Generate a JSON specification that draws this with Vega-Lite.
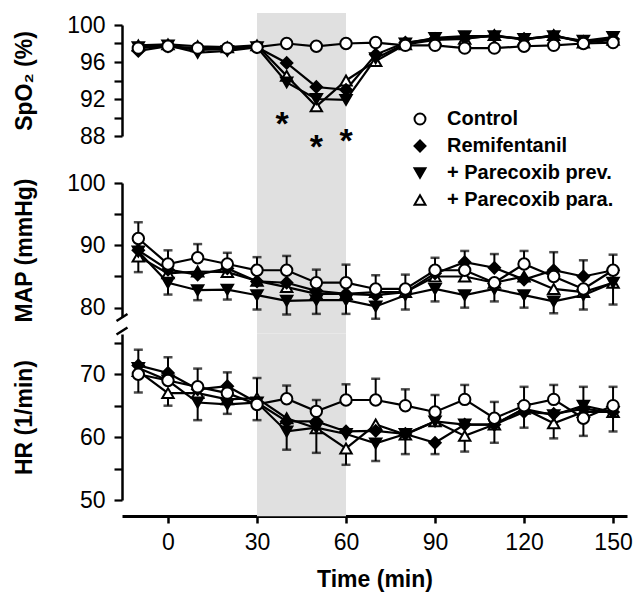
{
  "$schema": "https://vega.github.io/schema/vega-lite/v6.json",
  "background": "white",
  "padding": {"left": 13, "top": 12, "right": 5, "bottom": 5},
  "datasets": {
    "pts": [
      {"p":"S","t":-10,"g":"+ Parecoxib para.","v":97.8},{"p":"S","t":-10,"g":"+ Parecoxib prev.","v":97.6},{"p":"S","t":-10,"g":"Remifentanil","v":97.2},{"p":"S","t":-10,"g":"Control","v":97.5},
      {"p":"S","t":0,"g":"+ Parecoxib para.","v":97.9},{"p":"S","t":0,"g":"+ Parecoxib prev.","v":97.8},{"p":"S","t":0,"g":"Remifentanil","v":97.7},{"p":"S","t":0,"g":"Control","v":97.7},
      {"p":"S","t":10,"g":"+ Parecoxib para.","v":97.7},{"p":"S","t":10,"g":"+ Parecoxib prev.","v":97.0},{"p":"S","t":10,"g":"Remifentanil","v":97.3},{"p":"S","t":10,"g":"Control","v":97.5},
      {"p":"S","t":20,"g":"+ Parecoxib para.","v":97.6},{"p":"S","t":20,"g":"+ Parecoxib prev.","v":97.2},{"p":"S","t":20,"g":"Remifentanil","v":97.4},{"p":"S","t":20,"g":"Control","v":97.5},
      {"p":"S","t":30,"g":"+ Parecoxib para.","v":97.8},{"p":"S","t":30,"g":"+ Parecoxib prev.","v":97.6},{"p":"S","t":30,"g":"Remifentanil","v":97.6},{"p":"S","t":30,"g":"Control","v":97.6},
      {"p":"S","t":40,"g":"+ Parecoxib para.","v":94.5},{"p":"S","t":40,"g":"+ Parecoxib prev.","v":93.8},{"p":"S","t":40,"g":"Remifentanil","v":95.9},{"p":"S","t":40,"g":"Control","v":98.0},
      {"p":"S","t":50,"g":"+ Parecoxib para.","v":91.2},{"p":"S","t":50,"g":"+ Parecoxib prev.","v":92.0},{"p":"S","t":50,"g":"Remifentanil","v":93.3},{"p":"S","t":50,"g":"Control","v":97.7},
      {"p":"S","t":60,"g":"+ Parecoxib para.","v":94.0},{"p":"S","t":60,"g":"+ Parecoxib prev.","v":91.9},{"p":"S","t":60,"g":"Remifentanil","v":93.0},{"p":"S","t":60,"g":"Control","v":98.0},
      {"p":"S","t":70,"g":"+ Parecoxib para.","v":96.1},{"p":"S","t":70,"g":"+ Parecoxib prev.","v":96.4},{"p":"S","t":70,"g":"Remifentanil","v":96.8},{"p":"S","t":70,"g":"Control","v":98.1},
      {"p":"S","t":80,"g":"+ Parecoxib para.","v":97.9},{"p":"S","t":80,"g":"+ Parecoxib prev.","v":98.0},{"p":"S","t":80,"g":"Remifentanil","v":98.1},{"p":"S","t":80,"g":"Control","v":97.8},
      {"p":"S","t":90,"g":"+ Parecoxib para.","v":98.4},{"p":"S","t":90,"g":"+ Parecoxib prev.","v":98.6},{"p":"S","t":90,"g":"Remifentanil","v":98.5},{"p":"S","t":90,"g":"Control","v":97.8},
      {"p":"S","t":100,"g":"+ Parecoxib para.","v":98.5},{"p":"S","t":100,"g":"+ Parecoxib prev.","v":98.8},{"p":"S","t":100,"g":"Remifentanil","v":98.6},{"p":"S","t":100,"g":"Control","v":97.5},
      {"p":"S","t":110,"g":"+ Parecoxib para.","v":98.9},{"p":"S","t":110,"g":"+ Parecoxib prev.","v":98.8},{"p":"S","t":110,"g":"Remifentanil","v":98.8},{"p":"S","t":110,"g":"Control","v":97.5},
      {"p":"S","t":120,"g":"+ Parecoxib para.","v":98.4},{"p":"S","t":120,"g":"+ Parecoxib prev.","v":98.5},{"p":"S","t":120,"g":"Remifentanil","v":98.5},{"p":"S","t":120,"g":"Control","v":97.7},
      {"p":"S","t":130,"g":"+ Parecoxib para.","v":98.9},{"p":"S","t":130,"g":"+ Parecoxib prev.","v":98.8},{"p":"S","t":130,"g":"Remifentanil","v":98.8},{"p":"S","t":130,"g":"Control","v":97.8},
      {"p":"S","t":140,"g":"+ Parecoxib para.","v":98.1},{"p":"S","t":140,"g":"+ Parecoxib prev.","v":98.3},{"p":"S","t":140,"g":"Remifentanil","v":98.2},{"p":"S","t":140,"g":"Control","v":98.0},
      {"p":"S","t":150,"g":"+ Parecoxib para.","v":98.4},{"p":"S","t":150,"g":"+ Parecoxib prev.","v":98.7},{"p":"S","t":150,"g":"Remifentanil","v":98.5},{"p":"S","t":150,"g":"Control","v":98.1},

      {"p":"M","t":-10,"g":"+ Parecoxib para.","v":88.2},{"p":"M","t":-10,"g":"+ Parecoxib prev.","v":89.0},{"p":"M","t":-10,"g":"Remifentanil","v":89.2},{"p":"M","t":-10,"g":"Control","v":91.1},
      {"p":"M","t":0,"g":"+ Parecoxib para.","v":85.5},{"p":"M","t":0,"g":"+ Parecoxib prev.","v":84.0},{"p":"M","t":0,"g":"Remifentanil","v":86.1},{"p":"M","t":0,"g":"Control","v":87.0},
      {"p":"M","t":10,"g":"+ Parecoxib para.","v":85.8},{"p":"M","t":10,"g":"+ Parecoxib prev.","v":82.8},{"p":"M","t":10,"g":"Remifentanil","v":85.3},{"p":"M","t":10,"g":"Control","v":88.0},
      {"p":"M","t":20,"g":"+ Parecoxib para.","v":85.7},{"p":"M","t":20,"g":"+ Parecoxib prev.","v":82.9},{"p":"M","t":20,"g":"Remifentanil","v":86.3},{"p":"M","t":20,"g":"Control","v":87.0},
      {"p":"M","t":30,"g":"+ Parecoxib para.","v":84.3},{"p":"M","t":30,"g":"+ Parecoxib prev.","v":82.0},{"p":"M","t":30,"g":"Remifentanil","v":84.2},{"p":"M","t":30,"g":"Control","v":86.0},
      {"p":"M","t":40,"g":"+ Parecoxib para.","v":83.3},{"p":"M","t":40,"g":"+ Parecoxib prev.","v":81.1},{"p":"M","t":40,"g":"Remifentanil","v":84.0},{"p":"M","t":40,"g":"Control","v":86.0},
      {"p":"M","t":50,"g":"+ Parecoxib para.","v":82.2},{"p":"M","t":50,"g":"+ Parecoxib prev.","v":81.2},{"p":"M","t":50,"g":"Remifentanil","v":82.7},{"p":"M","t":50,"g":"Control","v":84.0},
      {"p":"M","t":60,"g":"+ Parecoxib para.","v":82.2},{"p":"M","t":60,"g":"+ Parecoxib prev.","v":81.2},{"p":"M","t":60,"g":"Remifentanil","v":82.2},{"p":"M","t":60,"g":"Control","v":84.0},
      {"p":"M","t":70,"g":"+ Parecoxib para.","v":82.5},{"p":"M","t":70,"g":"+ Parecoxib prev.","v":80.2},{"p":"M","t":70,"g":"Remifentanil","v":82.0},{"p":"M","t":70,"g":"Control","v":83.0},
      {"p":"M","t":80,"g":"+ Parecoxib para.","v":82.5},{"p":"M","t":80,"g":"+ Parecoxib prev.","v":82.0},{"p":"M","t":80,"g":"Remifentanil","v":82.5},{"p":"M","t":80,"g":"Control","v":83.0},
      {"p":"M","t":90,"g":"+ Parecoxib para.","v":85.0},{"p":"M","t":90,"g":"+ Parecoxib prev.","v":83.0},{"p":"M","t":90,"g":"Remifentanil","v":85.5},{"p":"M","t":90,"g":"Control","v":86.0},
      {"p":"M","t":100,"g":"+ Parecoxib para.","v":85.0},{"p":"M","t":100,"g":"+ Parecoxib prev.","v":82.0},{"p":"M","t":100,"g":"Remifentanil","v":87.3},{"p":"M","t":100,"g":"Control","v":86.0},
      {"p":"M","t":110,"g":"+ Parecoxib para.","v":84.0},{"p":"M","t":110,"g":"+ Parecoxib prev.","v":83.0},{"p":"M","t":110,"g":"Remifentanil","v":86.4},{"p":"M","t":110,"g":"Control","v":84.0},
      {"p":"M","t":120,"g":"+ Parecoxib para.","v":85.0},{"p":"M","t":120,"g":"+ Parecoxib prev.","v":82.0},{"p":"M","t":120,"g":"Remifentanil","v":84.5},{"p":"M","t":120,"g":"Control","v":87.0},
      {"p":"M","t":130,"g":"+ Parecoxib para.","v":83.0},{"p":"M","t":130,"g":"+ Parecoxib prev.","v":81.0},{"p":"M","t":130,"g":"Remifentanil","v":86.0},{"p":"M","t":130,"g":"Control","v":85.0},
      {"p":"M","t":140,"g":"+ Parecoxib para.","v":82.5},{"p":"M","t":140,"g":"+ Parecoxib prev.","v":82.0},{"p":"M","t":140,"g":"Remifentanil","v":85.0},{"p":"M","t":140,"g":"Control","v":83.0},
      {"p":"M","t":150,"g":"+ Parecoxib para.","v":84.0},{"p":"M","t":150,"g":"+ Parecoxib prev.","v":84.0},{"p":"M","t":150,"g":"Remifentanil","v":86.0},{"p":"M","t":150,"g":"Control","v":86.0},

      {"p":"H","t":-10,"g":"+ Parecoxib para.","v":70.5},{"p":"H","t":-10,"g":"+ Parecoxib prev.","v":71.0},{"p":"H","t":-10,"g":"Remifentanil","v":71.4},{"p":"H","t":-10,"g":"Control","v":70.0},
      {"p":"H","t":0,"g":"+ Parecoxib para.","v":67.0},{"p":"H","t":0,"g":"+ Parecoxib prev.","v":69.0},{"p":"H","t":0,"g":"Remifentanil","v":70.2},{"p":"H","t":0,"g":"Control","v":69.0},
      {"p":"H","t":10,"g":"+ Parecoxib para.","v":67.0},{"p":"H","t":10,"g":"+ Parecoxib prev.","v":65.5},{"p":"H","t":10,"g":"Remifentanil","v":67.6},{"p":"H","t":10,"g":"Control","v":68.0},
      {"p":"H","t":20,"g":"+ Parecoxib para.","v":66.0},{"p":"H","t":20,"g":"+ Parecoxib prev.","v":65.2},{"p":"H","t":20,"g":"Remifentanil","v":68.1},{"p":"H","t":20,"g":"Control","v":67.0},
      {"p":"H","t":30,"g":"+ Parecoxib para.","v":66.2},{"p":"H","t":30,"g":"+ Parecoxib prev.","v":65.5},{"p":"H","t":30,"g":"Remifentanil","v":65.5},{"p":"H","t":30,"g":"Control","v":65.2},
      {"p":"H","t":40,"g":"+ Parecoxib para.","v":63.0},{"p":"H","t":40,"g":"+ Parecoxib prev.","v":60.9},{"p":"H","t":40,"g":"Remifentanil","v":62.5},{"p":"H","t":40,"g":"Control","v":66.1},
      {"p":"H","t":50,"g":"+ Parecoxib para.","v":61.4},{"p":"H","t":50,"g":"+ Parecoxib prev.","v":61.5},{"p":"H","t":50,"g":"Remifentanil","v":62.5},{"p":"H","t":50,"g":"Control","v":64.1},
      {"p":"H","t":60,"g":"+ Parecoxib para.","v":58.2},{"p":"H","t":60,"g":"+ Parecoxib prev.","v":60.5},{"p":"H","t":60,"g":"Remifentanil","v":60.9},{"p":"H","t":60,"g":"Control","v":65.9},
      {"p":"H","t":70,"g":"+ Parecoxib para.","v":62.0},{"p":"H","t":70,"g":"+ Parecoxib prev.","v":59.0},{"p":"H","t":70,"g":"Remifentanil","v":61.0},{"p":"H","t":70,"g":"Control","v":65.9},
      {"p":"H","t":80,"g":"+ Parecoxib para.","v":60.4},{"p":"H","t":80,"g":"+ Parecoxib prev.","v":60.5},{"p":"H","t":80,"g":"Remifentanil","v":60.5},{"p":"H","t":80,"g":"Control","v":65.0},
      {"p":"H","t":90,"g":"+ Parecoxib para.","v":62.5},{"p":"H","t":90,"g":"+ Parecoxib prev.","v":62.5},{"p":"H","t":90,"g":"Remifentanil","v":59.1},{"p":"H","t":90,"g":"Control","v":64.0},
      {"p":"H","t":100,"g":"+ Parecoxib para.","v":60.2},{"p":"H","t":100,"g":"+ Parecoxib prev.","v":62.0},{"p":"H","t":100,"g":"Remifentanil","v":62.0},{"p":"H","t":100,"g":"Control","v":66.0},
      {"p":"H","t":110,"g":"+ Parecoxib para.","v":62.0},{"p":"H","t":110,"g":"+ Parecoxib prev.","v":62.0},{"p":"H","t":110,"g":"Remifentanil","v":62.0},{"p":"H","t":110,"g":"Control","v":63.0},
      {"p":"H","t":120,"g":"+ Parecoxib para.","v":64.5},{"p":"H","t":120,"g":"+ Parecoxib prev.","v":64.5},{"p":"H","t":120,"g":"Remifentanil","v":64.0},{"p":"H","t":120,"g":"Control","v":65.0},
      {"p":"H","t":130,"g":"+ Parecoxib para.","v":62.2},{"p":"H","t":130,"g":"+ Parecoxib prev.","v":63.5},{"p":"H","t":130,"g":"Remifentanil","v":63.7},{"p":"H","t":130,"g":"Control","v":66.0},
      {"p":"H","t":140,"g":"+ Parecoxib para.","v":64.0},{"p":"H","t":140,"g":"+ Parecoxib prev.","v":65.0},{"p":"H","t":140,"g":"Remifentanil","v":64.5},{"p":"H","t":140,"g":"Control","v":63.0},
      {"p":"H","t":150,"g":"+ Parecoxib para.","v":64.0},{"p":"H","t":150,"g":"+ Parecoxib prev.","v":64.0},{"p":"H","t":150,"g":"Remifentanil","v":64.0},{"p":"H","t":150,"g":"Control","v":65.0}
    ],
    "err": [
      {"p":"M","t":-10,"m":91.1,"e":93.7},{"p":"M","t":0,"m":87.0,"e":89.2},{"p":"M","t":10,"m":88.0,"e":90.2},{"p":"M","t":20,"m":87.0,"e":88.8},{"p":"M","t":30,"m":86.0,"e":88.1},{"p":"M","t":40,"m":86.0,"e":88.3},{"p":"M","t":50,"m":84.0,"e":86.1},{"p":"M","t":60,"m":84.0,"e":86.9},{"p":"M","t":70,"m":83.0,"e":85.2},{"p":"M","t":80,"m":83.0,"e":85.3},{"p":"M","t":90,"m":86.0,"e":88.0},{"p":"M","t":100,"m":87.3,"e":89.1},{"p":"M","t":110,"m":86.4,"e":88.6},{"p":"M","t":120,"m":87.0,"e":89.1},{"p":"M","t":130,"m":86.0,"e":88.9},{"p":"M","t":140,"m":85.0,"e":87.6},{"p":"M","t":150,"m":86.0,"e":88.5},
      {"p":"M","t":-10,"m":88.2,"e":85.7},{"p":"M","t":0,"m":84.0,"e":82.1},{"p":"M","t":10,"m":82.8,"e":81.2},{"p":"M","t":20,"m":82.9,"e":81.3},{"p":"M","t":30,"m":82.0,"e":79.7},{"p":"M","t":40,"m":81.1,"e":78.9},{"p":"M","t":50,"m":82.2,"e":79.0},{"p":"M","t":60,"m":81.2,"e":79.0},{"p":"M","t":70,"m":80.2,"e":78.2},{"p":"M","t":80,"m":82.0,"e":79.7},{"p":"M","t":90,"m":83.0,"e":81.0},{"p":"M","t":100,"m":82.0,"e":80.0},{"p":"M","t":110,"m":83.0,"e":81.0},{"p":"M","t":120,"m":82.0,"e":80.0},{"p":"M","t":130,"m":81.0,"e":79.1},{"p":"M","t":140,"m":82.0,"e":79.7},{"p":"M","t":150,"m":84.0,"e":80.5},
      {"p":"H","t":-10,"m":71.4,"e":73.9},{"p":"H","t":0,"m":70.2,"e":72.7},{"p":"H","t":10,"m":68.0,"e":70.9},{"p":"H","t":20,"m":68.1,"e":70.3},{"p":"H","t":30,"m":66.2,"e":69.4},{"p":"H","t":40,"m":66.1,"e":68.2},{"p":"H","t":50,"m":64.1,"e":65.9},{"p":"H","t":60,"m":65.9,"e":68.4},{"p":"H","t":70,"m":65.9,"e":69.3},{"p":"H","t":80,"m":65.0,"e":67.6},{"p":"H","t":90,"m":64.0,"e":66.7},{"p":"H","t":100,"m":66.0,"e":68.3},{"p":"H","t":110,"m":63.0,"e":65.6},{"p":"H","t":120,"m":65.0,"e":68.0},{"p":"H","t":130,"m":66.0,"e":68.3},{"p":"H","t":140,"m":65.0,"e":68.0},{"p":"H","t":150,"m":65.0,"e":68.0},
      {"p":"H","t":-10,"m":70.0,"e":67.1},{"p":"H","t":0,"m":67.0,"e":65.0},{"p":"H","t":10,"m":65.5,"e":62.7},{"p":"H","t":20,"m":65.2,"e":63.7},{"p":"H","t":30,"m":65.2,"e":62.7},{"p":"H","t":40,"m":60.9,"e":58.0},{"p":"H","t":50,"m":61.4,"e":57.5},{"p":"H","t":60,"m":58.2,"e":55.6},{"p":"H","t":70,"m":59.0,"e":56.2},{"p":"H","t":80,"m":60.4,"e":57.3},{"p":"H","t":90,"m":59.1,"e":57.3},{"p":"H","t":100,"m":60.2,"e":57.7},{"p":"H","t":110,"m":62.0,"e":59.1},{"p":"H","t":120,"m":64.0,"e":61.5},{"p":"H","t":130,"m":62.2,"e":59.8},{"p":"H","t":140,"m":63.0,"e":60.2},{"p":"H","t":150,"m":64.0,"e":60.9}
    ],
    "stars": [{"t":38.5,"v":89.8},{"t":50,"v":87.3},{"t":60,"v":88.0}]
  },
  "vconcat": [
    {
      "width": 505, "height": 111,
      "layer": [
        {"data": {"values": [{}]}, "mark": {"type": "rect", "color": "#e0e0e0"},
         "encoding": {
           "x": {"datum": 30, "type": "quantitative", "scale": {"domain": [-15.5, 154.7], "nice": false, "zero": false}, "axis": null},
           "x2": {"datum": 60},
           "y": {"datum": 82.8, "type": "quantitative", "scale": {"domain": [88, 100], "nice": false, "zero": false}, "axis": {"values": [88,90,92,94,96,98,100], "labelExpr": "datum.value % 4 == 0 ? datum.label : ''", "title": "SpO₂ (%)"}},
           "y2": {"datum": 101.3}}},
        {"data": {"name": "pts"}, "transform": [{"filter": "datum.p == 'S'"}],
         "mark": {"type": "line", "color": "black", "strokeWidth": 2.2},
         "encoding": {
           "x": {"field": "t", "type": "quantitative", "scale": {"domain": [-15.5, 154.7], "nice": false, "zero": false}, "axis": null},
           "y": {"field": "v", "type": "quantitative", "scale": {"domain": [88, 100], "nice": false, "zero": false}, "axis": {"values": [88,90,92,94,96,98,100], "labelExpr": "datum.value % 4 == 0 ? datum.label : ''", "title": "SpO₂ (%)"}},
           "detail": {"field": "g"}}},
        {"data": {"name": "pts"}, "transform": [{"filter": "datum.p == 'S'"}],
         "mark": {"type": "point", "filled": false, "strokeWidth": 2, "size": 130, "opacity": 1},
         "encoding": {
           "x": {"field": "t", "type": "quantitative", "scale": {"domain": [-15.5, 154.7], "nice": false, "zero": false}, "axis": null},
           "y": {"field": "v", "type": "quantitative", "scale": {"domain": [88, 100], "nice": false, "zero": false}, "axis": {"values": [88,90,92,94,96,98,100], "labelExpr": "datum.value % 4 == 0 ? datum.label : ''", "title": "SpO₂ (%)"}},
           "shape": {"field": "g", "type": "nominal",
             "scale": {"domain": ["Control", "Remifentanil", "+ Parecoxib prev.", "+ Parecoxib para."], "range": ["circle", "diamond", "triangle-down", "triangle-up"]},
             "legend": {"orient": "none", "legendX": 288, "legendY": 84, "title": null, "labelExpr": "datum.label[0] == '+' ? '\u2002' + datum.label : datum.label"}},
           "fill": {"field": "g", "type": "nominal",
             "scale": {"domain": ["Control", "Remifentanil", "+ Parecoxib prev.", "+ Parecoxib para."], "range": ["white", "black", "black", "white"]},
             "legend": {"orient": "none", "legendX": 288, "legendY": 84, "title": null, "labelExpr": "datum.label[0] == '+' ? '\u2002' + datum.label : datum.label"}},
           "stroke": {"field": "g", "type": "nominal",
             "scale": {"domain": ["Control", "Remifentanil", "+ Parecoxib prev.", "+ Parecoxib para."], "range": ["black", "black", "black", "black"]},
             "legend": {"orient": "none", "legendX": 288, "legendY": 84, "title": null, "labelExpr": "datum.label[0] == '+' ? '\u2002' + datum.label : datum.label"}}}},
        {"data": {"name": "stars"},
         "mark": {"type": "text", "fontSize": 34, "fontWeight": "bold", "baseline": "alphabetic", "dy": 16, "color": "black"},
         "encoding": {
           "x": {"field": "t", "type": "quantitative", "scale": {"domain": [-15.5, 154.7], "nice": false, "zero": false}, "axis": null},
           "y": {"field": "v", "type": "quantitative", "scale": {"domain": [88, 100], "nice": false, "zero": false}, "axis": {"values": [88,90,92,94,96,98,100], "labelExpr": "datum.value % 4 == 0 ? datum.label : ''", "title": "SpO₂ (%)"}},
           "text": {"value": "*"}}}
      ]
    },
    {
      "vconcat": [
        {
          "width": 505, "height": 134,
          "layer": [
            {"data": {"values": [{}]}, "mark": {"type": "rect", "color": "#e0e0e0"},
             "encoding": {
               "x": {"datum": 30, "type": "quantitative", "scale": {"domain": [-15.5, 154.7], "nice": false, "zero": false}, "axis": null},
               "x2": {"datum": 60},
               "y": {"datum": 75.8, "type": "quantitative", "scale": {"domain": [78.5, 100], "nice": false, "zero": false}, "axis": {"values": [80,85,90,95,100], "labelExpr": "datum.value % 10 == 0 ? datum.label : ''", "title": "MAP (mmHg)"}},
               "y2": {"datum": 100}}},
            {"data": {"name": "err"}, "transform": [{"filter": "datum.p == 'M'"}],
             "mark": {"type": "rule", "color": "black", "strokeWidth": 2},
             "encoding": {
               "x": {"field": "t", "type": "quantitative", "scale": {"domain": [-15.5, 154.7], "nice": false, "zero": false}, "axis": null},
               "y": {"field": "m", "type": "quantitative", "scale": {"domain": [78.5, 100], "nice": false, "zero": false}, "axis": {"values": [80,85,90,95,100], "labelExpr": "datum.value % 10 == 0 ? datum.label : ''", "title": "MAP (mmHg)"}},
               "y2": {"field": "e"}}},
            {"data": {"name": "err"}, "transform": [{"filter": "datum.p == 'M'"}],
             "mark": {"type": "tick", "orient": "horizontal", "color": "black", "thickness": 2.5, "size": 9},
             "encoding": {
               "x": {"field": "t", "type": "quantitative", "scale": {"domain": [-15.5, 154.7], "nice": false, "zero": false}, "axis": null},
               "y": {"field": "e", "type": "quantitative", "scale": {"domain": [78.5, 100], "nice": false, "zero": false}, "axis": {"values": [80,85,90,95,100], "labelExpr": "datum.value % 10 == 0 ? datum.label : ''", "title": "MAP (mmHg)"}}}},
            {"data": {"name": "pts"}, "transform": [{"filter": "datum.p == 'M'"}],
             "mark": {"type": "line", "color": "black", "strokeWidth": 2.2},
             "encoding": {
               "x": {"field": "t", "type": "quantitative", "scale": {"domain": [-15.5, 154.7], "nice": false, "zero": false}, "axis": null},
               "y": {"field": "v", "type": "quantitative", "scale": {"domain": [78.5, 100], "nice": false, "zero": false}, "axis": {"values": [80,85,90,95,100], "labelExpr": "datum.value % 10 == 0 ? datum.label : ''", "title": "MAP (mmHg)"}},
               "detail": {"field": "g"}}},
            {"data": {"name": "pts"}, "transform": [{"filter": "datum.p == 'M'"}],
             "mark": {"type": "point", "filled": false, "color": "black", "strokeWidth": 2, "size": 130, "opacity": 1},
             "encoding": {
               "x": {"field": "t", "type": "quantitative", "scale": {"domain": [-15.5, 154.7], "nice": false, "zero": false}, "axis": null},
               "y": {"field": "v", "type": "quantitative", "scale": {"domain": [78.5, 100], "nice": false, "zero": false}, "axis": {"values": [80,85,90,95,100], "labelExpr": "datum.value % 10 == 0 ? datum.label : ''", "title": "MAP (mmHg)"}},
               "shape": {"field": "g", "type": "nominal", "scale": {"domain": ["Control", "Remifentanil", "+ Parecoxib prev.", "+ Parecoxib para."], "range": ["circle", "diamond", "triangle-down", "triangle-up"]}, "legend": null},
               "fill": {"field": "g", "type": "nominal", "scale": {"domain": ["Control", "Remifentanil", "+ Parecoxib prev.", "+ Parecoxib para."], "range": ["white", "black", "black", "white"]}, "legend": null}}},
            {"data": {"values": [{}]}, "mark": {"type": "rule", "color": "black", "strokeWidth": 2.5},
             "encoding": {
               "x": {"datum": -17.35, "type": "quantitative", "scale": {"domain": [-15.5, 154.7], "nice": false, "zero": false}, "axis": null},
               "x2": {"datum": -13.65},
               "y": {"datum": 77.86, "type": "quantitative", "scale": {"domain": [78.5, 100], "nice": false, "zero": false}, "axis": {"values": [80,85,90,95,100], "labelExpr": "datum.value % 10 == 0 ? datum.label : ''", "title": "MAP (mmHg)"}},
               "y2": {"datum": 78.98}}},
            {"data": {"values": [{}]}, "mark": {"type": "rule", "color": "black", "strokeWidth": 2.5},
             "encoding": {
               "x": {"datum": -17.35, "type": "quantitative", "scale": {"domain": [-15.5, 154.7], "nice": false, "zero": false}, "axis": null},
               "x2": {"datum": -13.65},
               "y": {"datum": 75.7, "type": "quantitative", "scale": {"domain": [78.5, 100], "nice": false, "zero": false}, "axis": {"values": [80,85,90,95,100], "labelExpr": "datum.value % 10 == 0 ? datum.label : ''", "title": "MAP (mmHg)"}},
               "y2": {"datum": 76.82}}}
          ]
        },
        {
          "width": 505, "height": 166,
          "layer": [
            {"data": {"values": [{}]}, "mark": {"type": "rect", "color": "#e0e0e0"},
             "encoding": {
               "x": {"datum": 30, "type": "quantitative", "scale": {"domain": [-15.5, 154.7], "nice": false, "zero": false}, "axis": {"values": [0,30,60,90,120,150], "title": "Time (min)", "offset": 16, "domainWidth": 3, "tickSize": 7, "tickWidth": 2.5, "labelPadding": 8, "titlePadding": 14}},
               "x2": {"datum": 60},
               "y": {"datum": 47.4, "type": "quantitative", "scale": {"domain": [50, 76.4], "nice": false, "zero": false}, "axis": {"values": [50,55,60,65,70,75], "labelExpr": "datum.value % 10 == 0 ? datum.label : ''", "title": "HR (1/min)"}},
               "y2": {"datum": 76.4}}},
            {"data": {"name": "err"}, "transform": [{"filter": "datum.p == 'H'"}],
             "mark": {"type": "rule", "color": "black", "strokeWidth": 2},
             "encoding": {
               "x": {"field": "t", "type": "quantitative", "scale": {"domain": [-15.5, 154.7], "nice": false, "zero": false}, "axis": {"values": [0,30,60,90,120,150], "title": "Time (min)", "offset": 16, "domainWidth": 3, "tickSize": 7, "tickWidth": 2.5, "labelPadding": 8, "titlePadding": 14}},
               "y": {"field": "m", "type": "quantitative", "scale": {"domain": [50, 76.4], "nice": false, "zero": false}, "axis": {"values": [50,55,60,65,70,75], "labelExpr": "datum.value % 10 == 0 ? datum.label : ''", "title": "HR (1/min)"}},
               "y2": {"field": "e"}}},
            {"data": {"name": "err"}, "transform": [{"filter": "datum.p == 'H'"}],
             "mark": {"type": "tick", "orient": "horizontal", "color": "black", "thickness": 2.5, "size": 9},
             "encoding": {
               "x": {"field": "t", "type": "quantitative", "scale": {"domain": [-15.5, 154.7], "nice": false, "zero": false}, "axis": {"values": [0,30,60,90,120,150], "title": "Time (min)", "offset": 16, "domainWidth": 3, "tickSize": 7, "tickWidth": 2.5, "labelPadding": 8, "titlePadding": 14}},
               "y": {"field": "e", "type": "quantitative", "scale": {"domain": [50, 76.4], "nice": false, "zero": false}, "axis": {"values": [50,55,60,65,70,75], "labelExpr": "datum.value % 10 == 0 ? datum.label : ''", "title": "HR (1/min)"}}}},
            {"data": {"name": "pts"}, "transform": [{"filter": "datum.p == 'H'"}],
             "mark": {"type": "line", "color": "black", "strokeWidth": 2.2},
             "encoding": {
               "x": {"field": "t", "type": "quantitative", "scale": {"domain": [-15.5, 154.7], "nice": false, "zero": false}, "axis": {"values": [0,30,60,90,120,150], "title": "Time (min)", "offset": 16, "domainWidth": 3, "tickSize": 7, "tickWidth": 2.5, "labelPadding": 8, "titlePadding": 14}},
               "y": {"field": "v", "type": "quantitative", "scale": {"domain": [50, 76.4], "nice": false, "zero": false}, "axis": {"values": [50,55,60,65,70,75], "labelExpr": "datum.value % 10 == 0 ? datum.label : ''", "title": "HR (1/min)"}},
               "detail": {"field": "g"}}},
            {"data": {"name": "pts"}, "transform": [{"filter": "datum.p == 'H'"}],
             "mark": {"type": "point", "filled": false, "color": "black", "strokeWidth": 2, "size": 130, "opacity": 1},
             "encoding": {
               "x": {"field": "t", "type": "quantitative", "scale": {"domain": [-15.5, 154.7], "nice": false, "zero": false}, "axis": {"values": [0,30,60,90,120,150], "title": "Time (min)", "offset": 16, "domainWidth": 3, "tickSize": 7, "tickWidth": 2.5, "labelPadding": 8, "titlePadding": 14}},
               "y": {"field": "v", "type": "quantitative", "scale": {"domain": [50, 76.4], "nice": false, "zero": false}, "axis": {"values": [50,55,60,65,70,75], "labelExpr": "datum.value % 10 == 0 ? datum.label : ''", "title": "HR (1/min)"}},
               "shape": {"field": "g", "type": "nominal", "scale": {"domain": ["Control", "Remifentanil", "+ Parecoxib prev.", "+ Parecoxib para."], "range": ["circle", "diamond", "triangle-down", "triangle-up"]}, "legend": null},
               "fill": {"field": "g", "type": "nominal", "scale": {"domain": ["Control", "Remifentanil", "+ Parecoxib prev.", "+ Parecoxib para."], "range": ["white", "black", "black", "white"]}, "legend": null}}}
          ]
        }
      ],
      "spacing": 17,
      "bounds": "flush",
      "resolve": {"scale": {"shape": "independent", "fill": "independent", "stroke": "independent", "x": "independent", "y": "independent"}}
    }
  ],
  "spacing": 47,
  "bounds": "flush",
  "resolve": {"scale": {"shape": "independent", "fill": "independent", "stroke": "independent", "x": "independent", "y": "independent"}},
  "config": {
    "view": {"stroke": null},
    "font": "Liberation Sans",
    "axis": {
      "domainColor": "black", "domainWidth": 2.5, "tickColor": "black", "tickWidth": 2.2, "tickSize": 8,
      "labelFont": "Liberation Sans", "labelFontSize": 23, "labelColor": "black",
      "titleFont": "Liberation Sans", "titleFontSize": 23, "titleFontWeight": "bold", "titleColor": "black",
      "grid": false, "labelPadding": 8
    },
    "axisY": {"titleX": -98, "titleAngle": 270, "titleBaseline": "middle", "titleAlign": "center", "labelPadding": 9},
    "legend": {
      "padding": 0, "labelFont": "Liberation Sans", "labelFontSize": 20, "labelFontWeight": "bold", "labelColor": "black",
      "symbolSize": 120, "symbolStrokeWidth": 2, "labelOffset": 17, "rowPadding": 7, "labelLimit": 300
    }
  }
}
